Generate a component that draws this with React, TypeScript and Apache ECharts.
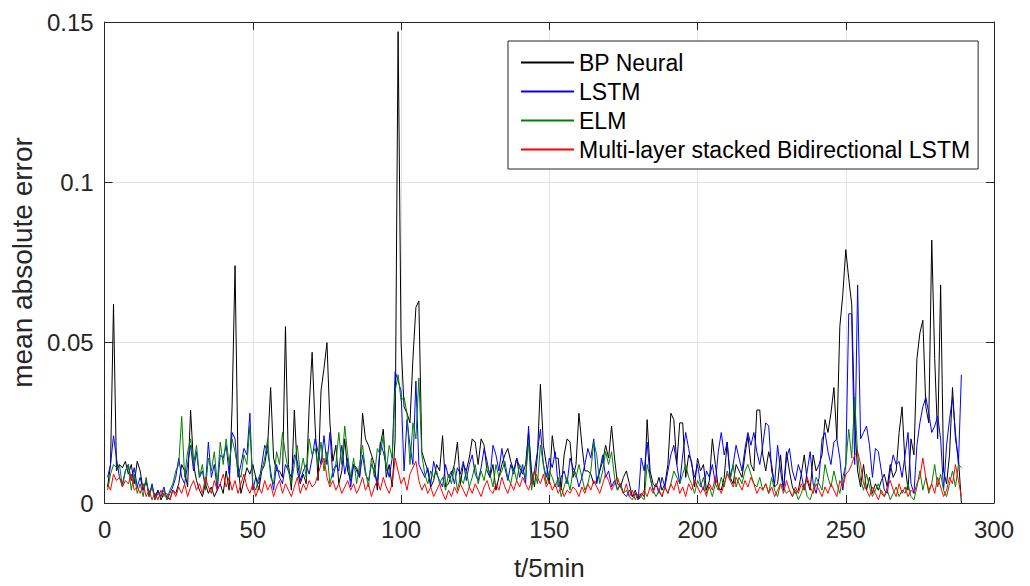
import React, { useEffect, useRef } from "react";
import * as echarts from "echarts";

const xTicks = [0, 50, 100, 150, 200, 250, 300];
const seriesNames = ["BP Neural", "LSTM", "ELM", "Multi-layer stacked Bidirectional LSTM"];
const seriesColors = ["#000000", "#0000ff", "#008000", "#ff0000"];

const bpNeural = [
  0.005, 0.012, 0.062, 0.01, 0.012, 0.011, 0.013, 0.009, 0.012, 0.006,
  0.013, 0.01, 0.004, 0.007, 0.003, 0.005, 0.002, 0.004, 0.001, 0.003,
  0.002, 0.001, 0.004, 0.003, 0.006, 0.012, 0.01, 0.005, 0.029, 0.012,
  0.007, 0.004, 0.002, 0.006, 0.003, 0.005, 0.002, 0.004, 0.006, 0.003,
  0.01, 0.004, 0.03, 0.074, 0.012, 0.003, 0.007, 0.011, 0.009, 0.012,
  0.008, 0.004, 0.01, 0.012, 0.018, 0.036, 0.014, 0.01, 0.01, 0.008,
  0.055, 0.012, 0.004, 0.029, 0.01, 0.006, 0.009, 0.006, 0.03, 0.047,
  0.024, 0.007, 0.035, 0.042, 0.05, 0.025, 0.013, 0.018, 0.006, 0.01,
  0.02, 0.01, 0.007, 0.012, 0.011, 0.008, 0.028, 0.02, 0.018, 0.015,
  0.012, 0.004, 0.018, 0.023, 0.008, 0.012, 0.005, 0.02, 0.147, 0.05,
  0.03, 0.028, 0.025, 0.045, 0.061, 0.063, 0.016, 0.013, 0.01, 0.005,
  0.007, 0.012, 0.01, 0.021, 0.005, 0.006, 0.009, 0.012, 0.019, 0.006,
  0.012, 0.01, 0.014, 0.02, 0.019, 0.012, 0.02, 0.018, 0.01, 0.008,
  0.012, 0.004, 0.008, 0.012, 0.015, 0.017, 0.013, 0.01, 0.014, 0.011,
  0.009, 0.012, 0.022, 0.01, 0.005, 0.015, 0.037, 0.018, 0.012, 0.006,
  0.021, 0.014, 0.014, 0.004, 0.015, 0.02, 0.019, 0.008, 0.012, 0.028,
  0.018, 0.01, 0.01, 0.009, 0.006, 0.007, 0.01, 0.013, 0.018, 0.014,
  0.024, 0.014, 0.006, 0.005, 0.008, 0.01, 0.006, 0.002, 0.004, 0.001,
  0.003, 0.002, 0.026, 0.01, 0.006, 0.005, 0.008, 0.004, 0.006, 0.012,
  0.028, 0.026, 0.012, 0.025, 0.025, 0.008, 0.015, 0.013, 0.005, 0.014,
  0.01, 0.012, 0.004, 0.007, 0.02, 0.012, 0.005, 0.004, 0.008, 0.019,
  0.008, 0.006, 0.012, 0.01, 0.008, 0.015, 0.021, 0.012, 0.01, 0.029,
  0.029, 0.015, 0.01, 0.016, 0.012, 0.005, 0.006, 0.015, 0.004, 0.016,
  0.01, 0.005, 0.003, 0.004, 0.009, 0.015, 0.007, 0.004, 0.015, 0.01,
  0.012, 0.015, 0.026, 0.022, 0.028, 0.036, 0.02, 0.055, 0.065, 0.079,
  0.07, 0.062, 0.025, 0.01, 0.005, 0.012, 0.004, 0.008, 0.003, 0.006,
  0.004, 0.007, 0.009, 0.005, 0.012, 0.008, 0.01, 0.022, 0.03, 0.012,
  0.004, 0.02, 0.015, 0.045, 0.053, 0.057, 0.03, 0.025, 0.082, 0.045,
  0.02, 0.068, 0.01, 0.006, 0.015, 0.036, 0.02, 0.014, 0.0,
];

const lstm = [
  0.008, 0.012, 0.021, 0.014, 0.008, 0.006, 0.01, 0.012, 0.007, 0.011,
  0.005, 0.008, 0.004, 0.007, 0.002, 0.006, 0.001, 0.004, 0.002, 0.005,
  0.001, 0.003, 0.005, 0.008, 0.014, 0.008, 0.006, 0.012, 0.018, 0.01,
  0.016, 0.008, 0.01, 0.005, 0.019, 0.008, 0.012, 0.004, 0.015, 0.014,
  0.018, 0.009, 0.022, 0.02, 0.008, 0.012, 0.017, 0.015, 0.028, 0.004,
  0.008, 0.006, 0.012, 0.018, 0.016, 0.01, 0.004, 0.012, 0.008, 0.006,
  0.012, 0.01, 0.008, 0.015, 0.013, 0.007, 0.01, 0.012, 0.009, 0.014,
  0.02, 0.016, 0.012, 0.021, 0.012, 0.022, 0.008, 0.012, 0.01, 0.018,
  0.009, 0.014, 0.005, 0.012, 0.01, 0.008, 0.015, 0.009, 0.007, 0.012,
  0.01, 0.006, 0.019, 0.016, 0.012, 0.008, 0.014, 0.041, 0.038, 0.035,
  0.01, 0.026, 0.018, 0.012, 0.038, 0.012, 0.01, 0.008, 0.011, 0.006,
  0.013, 0.009, 0.007, 0.005, 0.012, 0.008, 0.01, 0.006, 0.011, 0.009,
  0.013, 0.007, 0.012, 0.015, 0.009, 0.007, 0.011, 0.017, 0.013, 0.008,
  0.018, 0.015, 0.01, 0.017, 0.011, 0.007, 0.012, 0.009, 0.014, 0.008,
  0.012, 0.006, 0.024, 0.006, 0.01, 0.016, 0.023, 0.012, 0.008, 0.014,
  0.011, 0.016, 0.005, 0.008, 0.01, 0.006, 0.014, 0.011, 0.009, 0.005,
  0.008, 0.012, 0.017, 0.014, 0.02, 0.006, 0.01, 0.015, 0.008, 0.01,
  0.005, 0.007, 0.004, 0.006, 0.003, 0.002, 0.004, 0.002, 0.003, 0.001,
  0.014, 0.01, 0.019, 0.008, 0.004, 0.006, 0.003, 0.008, 0.005, 0.01,
  0.015, 0.018, 0.012, 0.006, 0.015, 0.022, 0.017, 0.012, 0.008, 0.012,
  0.006, 0.004, 0.01, 0.008, 0.012, 0.006, 0.016, 0.022, 0.015, 0.019,
  0.008, 0.012, 0.018, 0.014, 0.01, 0.017, 0.022, 0.018, 0.022, 0.016,
  0.012, 0.018, 0.025, 0.024, 0.01, 0.006, 0.018, 0.01, 0.004, 0.014,
  0.017, 0.01, 0.007, 0.012, 0.009, 0.004, 0.01, 0.016, 0.006, 0.003,
  0.008, 0.02, 0.022, 0.016, 0.012, 0.019, 0.02, 0.014, 0.004, 0.012,
  0.059, 0.059, 0.012, 0.068, 0.02, 0.022, 0.024, 0.018, 0.008, 0.017,
  0.016, 0.01, 0.004, 0.003, 0.01, 0.015, 0.012, 0.013, 0.008, 0.015,
  0.022, 0.006, 0.003, 0.018, 0.025, 0.03, 0.033, 0.028, 0.022, 0.024,
  0.027, 0.02, 0.004, 0.018, 0.026, 0.033, 0.022, 0.012, 0.04,
];

const elm = [
  0.004, 0.009, 0.012, 0.011, 0.012, 0.005, 0.01, 0.012, 0.004, 0.009,
  0.003, 0.006, 0.002, 0.008, 0.002, 0.005, 0.001, 0.003, 0.002, 0.004,
  0.001, 0.004, 0.006, 0.01, 0.012, 0.027, 0.008, 0.016, 0.02, 0.012,
  0.018, 0.008, 0.012, 0.004, 0.014, 0.01, 0.016, 0.006, 0.019, 0.012,
  0.02, 0.012, 0.02, 0.016, 0.01, 0.008, 0.015, 0.012, 0.024, 0.006,
  0.004, 0.008, 0.01, 0.014, 0.02, 0.008, 0.006, 0.016, 0.012, 0.022,
  0.015, 0.01, 0.006, 0.012, 0.018, 0.009, 0.014, 0.008, 0.02, 0.015,
  0.017, 0.012, 0.019, 0.01, 0.016, 0.006, 0.01, 0.012, 0.022, 0.012,
  0.024, 0.015, 0.008, 0.014, 0.006, 0.012, 0.018, 0.01, 0.005, 0.014,
  0.008, 0.017, 0.015, 0.021, 0.01, 0.018, 0.014, 0.035, 0.04, 0.032,
  0.033, 0.028, 0.012, 0.025, 0.02, 0.039, 0.015, 0.009, 0.006, 0.01,
  0.008, 0.01, 0.006, 0.008, 0.004, 0.009, 0.006, 0.011, 0.004, 0.008,
  0.006, 0.01, 0.005, 0.008, 0.012, 0.006, 0.01, 0.007, 0.012, 0.009,
  0.005, 0.012, 0.008, 0.01, 0.013, 0.008, 0.006, 0.011, 0.007, 0.012,
  0.01, 0.008, 0.019, 0.004, 0.01, 0.006, 0.018, 0.012, 0.006, 0.01,
  0.008, 0.005, 0.008, 0.002, 0.005, 0.008, 0.004, 0.01, 0.008, 0.012,
  0.008, 0.004, 0.006, 0.01, 0.019, 0.015, 0.006, 0.01, 0.016, 0.012,
  0.016, 0.008, 0.004, 0.006, 0.003, 0.004, 0.002, 0.001, 0.003, 0.001,
  0.002, 0.001, 0.012, 0.008, 0.004, 0.002, 0.004, 0.002, 0.005, 0.003,
  0.006, 0.01, 0.008, 0.006, 0.009, 0.012, 0.008, 0.006, 0.003, 0.007,
  0.005, 0.008, 0.003, 0.005, 0.002, 0.006, 0.004, 0.008, 0.005, 0.01,
  0.007, 0.012, 0.005, 0.008, 0.006, 0.01, 0.012, 0.009, 0.006, 0.005,
  0.008, 0.004, 0.006, 0.003, 0.008, 0.004, 0.002, 0.006, 0.005, 0.003,
  0.004, 0.002, 0.004, 0.001, 0.003, 0.006, 0.002, 0.001, 0.004, 0.008,
  0.006, 0.004, 0.012, 0.008, 0.005, 0.01, 0.006, 0.003, 0.008, 0.012,
  0.023, 0.014, 0.033, 0.015, 0.007, 0.004, 0.009, 0.005, 0.002, 0.004,
  0.006, 0.003, 0.002, 0.004, 0.001, 0.003, 0.005, 0.002, 0.004, 0.003,
  0.006, 0.002, 0.001, 0.005, 0.01, 0.004, 0.008, 0.003, 0.006, 0.012,
  0.005, 0.009, 0.004, 0.002, 0.006, 0.01, 0.005, 0.012, 0.011,
];

const stackedBiLstm = [
  0.006, 0.004, 0.009, 0.007, 0.008, 0.005, 0.007, 0.006, 0.009, 0.004,
  0.005, 0.003, 0.006, 0.002, 0.004, 0.001, 0.003, 0.001, 0.004, 0.002,
  0.003, 0.001, 0.004, 0.002, 0.005, 0.003, 0.006, 0.002, 0.005, 0.007,
  0.004, 0.006, 0.003, 0.008, 0.005, 0.003, 0.007, 0.004, 0.006, 0.009,
  0.005, 0.008, 0.004, 0.007, 0.003, 0.006, 0.009, 0.005, 0.003, 0.006,
  0.002, 0.005, 0.003, 0.007, 0.004, 0.006, 0.002, 0.005, 0.007, 0.003,
  0.006, 0.004, 0.002, 0.005, 0.008, 0.003, 0.006, 0.004, 0.007, 0.005,
  0.006, 0.009, 0.012, 0.014, 0.008, 0.005, 0.007, 0.004, 0.006, 0.003,
  0.005, 0.007, 0.004, 0.006, 0.003, 0.005, 0.008, 0.004, 0.006, 0.002,
  0.005, 0.007, 0.004, 0.008, 0.005, 0.003, 0.006, 0.014, 0.01, 0.006,
  0.008, 0.004, 0.009, 0.011, 0.013, 0.007, 0.004, 0.006, 0.003, 0.005,
  0.002, 0.004, 0.006, 0.003, 0.001, 0.004, 0.002, 0.005, 0.003, 0.006,
  0.004, 0.002, 0.005, 0.003, 0.006, 0.004, 0.002, 0.005, 0.007, 0.004,
  0.003, 0.006, 0.004, 0.008, 0.005, 0.003, 0.006, 0.004, 0.007, 0.005,
  0.008, 0.006, 0.004, 0.007, 0.01, 0.008, 0.006, 0.009, 0.005, 0.007,
  0.004, 0.006, 0.003, 0.005, 0.002, 0.004, 0.003, 0.005, 0.004, 0.002,
  0.005, 0.003, 0.006, 0.004, 0.007, 0.005, 0.003, 0.006, 0.009, 0.007,
  0.004, 0.006, 0.008, 0.005, 0.003, 0.006, 0.002, 0.004, 0.001, 0.003,
  0.002, 0.004, 0.002, 0.005, 0.003, 0.006, 0.004, 0.002, 0.005, 0.003,
  0.006, 0.004, 0.007, 0.003, 0.005, 0.002, 0.006, 0.004, 0.007, 0.005,
  0.003, 0.005, 0.002, 0.006, 0.004, 0.008, 0.005, 0.003, 0.006, 0.009,
  0.007, 0.005, 0.008, 0.006, 0.004, 0.007, 0.005, 0.008, 0.006, 0.003,
  0.005, 0.004, 0.006, 0.003, 0.005, 0.002, 0.004, 0.006, 0.003, 0.007,
  0.004, 0.002, 0.005, 0.003, 0.006, 0.004, 0.008, 0.005, 0.003, 0.006,
  0.004, 0.002, 0.005, 0.003, 0.006, 0.004, 0.002, 0.007, 0.005, 0.009,
  0.01, 0.012, 0.015, 0.016, 0.012, 0.006, 0.004, 0.002, 0.005, 0.003,
  0.001, 0.004, 0.002, 0.005, 0.007, 0.004, 0.002, 0.006, 0.003, 0.005,
  0.002, 0.004, 0.003, 0.006, 0.008, 0.014, 0.008, 0.004, 0.006, 0.003,
  0.008, 0.005, 0.002, 0.004, 0.008, 0.006, 0.012, 0.007, 0.002,
];

const allSeries = [bpNeural, lstm, elm, stackedBiLstm];

const FONT = "'Liberation Sans', Arial, Helvetica, sans-serif";
const AXIS_COLOR = "#262626";

export default function App() {
  const ref = useRef<HTMLDivElement>(null);

  useEffect(() => {
    if (!ref.current) return;
    const chart = echarts.init(ref.current, undefined, { renderer: "svg" });

    const baseX = {
      type: "value" as const,
      min: xTicks[0],
      max: xTicks[xTicks.length - 1],
      interval: 50,
      axisLine: { show: true, onZero: false, lineStyle: { color: AXIS_COLOR, width: 1 } },
      axisTick: { show: true, inside: true, length: 8, lineStyle: { color: AXIS_COLOR } },
    };
    const baseY = {
      type: "value" as const,
      min: 0,
      max: 0.15,
      interval: 0.05,
      axisLine: { show: true, onZero: false, lineStyle: { color: AXIS_COLOR, width: 1 } },
      axisTick: { show: true, inside: true, length: 8, lineStyle: { color: AXIS_COLOR } },
    };

    chart.setOption({
      animation: false,
      backgroundColor: "#ffffff",
      textStyle: { fontFamily: FONT },
      grid: { left: 103, right: 36, top: 22, bottom: 76, containLabel: false },
      legend: {
        orient: "vertical",
        left: 508,
        top: 41,
        padding: [10, 8, 8, 12],
        itemGap: 6,
        itemWidth: 53,
        itemHeight: 14,
        itemStyle: { opacity: 0, borderWidth: 0 },
        borderColor: AXIS_COLOR,
        borderWidth: 1,
        backgroundColor: "#ffffff",
        textStyle: { fontSize: 23, lineHeight: 22, color: "#000000", fontFamily: FONT },
        data: seriesNames,
      },
      xAxis: [
        {
          ...baseX,
          position: "bottom",
          name: "t/5min",
          nameLocation: "middle",
          nameGap: 52,
          nameTextStyle: { fontSize: 26, color: AXIS_COLOR, fontFamily: FONT },
          axisLabel: { show: true, fontSize: 24, color: AXIS_COLOR, margin: 14, fontFamily: FONT },
          splitLine: { show: true, lineStyle: { color: "#e3e3e3", width: 1 } },
        },
        {
          ...baseX,
          position: "top",
          axisLabel: { show: false },
          splitLine: { show: false },
        },
      ],
      yAxis: [
        {
          ...baseY,
          position: "left",
          name: "mean absolute error",
          nameLocation: "middle",
          nameGap: 66,
          nameTextStyle: { fontSize: 28, color: AXIS_COLOR, fontFamily: FONT },
          axisLabel: { show: true, fontSize: 24, color: AXIS_COLOR, margin: 11, fontFamily: FONT },
          splitLine: { show: true, lineStyle: { color: "#e3e3e3", width: 1 } },
        },
        {
          ...baseY,
          position: "right",
          axisLabel: { show: false },
          splitLine: { show: false },
        },
      ],
      series: allSeries.map((vals, k) => ({
        name: seriesNames[k],
        type: "line",
        xAxisIndex: 0,
        yAxisIndex: 0,
        showSymbol: false,
        symbol: "none",
        color: seriesColors[k],
        itemStyle: { color: seriesColors[k] },
        lineStyle: { color: seriesColors[k], width: 1 },
        data: vals.map((v, i) => [i + 1, v]),
        z: 2 + k,
      })),
    });

    return () => chart.dispose();
  }, []);

  return (
    <div
      ref={ref}
      style={{ position: "absolute", left: 0, top: 0, width: 1030, height: 586, background: "#fff" }}
    />
  );
}
